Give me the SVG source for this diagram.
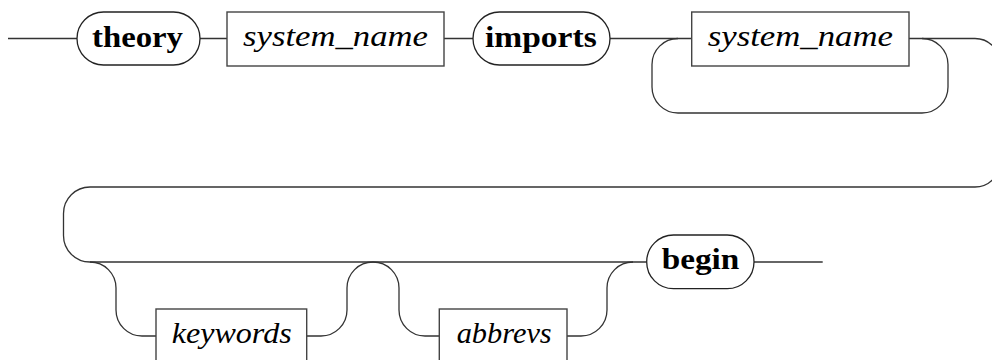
<svg xmlns="http://www.w3.org/2000/svg" width="992" height="360" viewBox="0 0 992 360">
<style>
.c{fill:none;stroke:#333;stroke-width:1.3}
.t{fill:#fff;stroke:#222;stroke-width:1.3}
.n{fill:#fff;stroke:#444;stroke-width:1.4}
.kw{font-family:"Liberation Serif","DejaVu Serif",serif;font-weight:bold;font-size:30px;fill:#000}
.nt{font-family:"Liberation Serif","DejaVu Serif",serif;font-style:italic;font-size:30px;fill:#000}
</style>
<rect width="992" height="360" fill="#fff"/>
<g id="connectors">
<path class="c" d="M8,38.5 H77 M200,38.5 H227 M444,38.5 H473 M610,38.5 H691.7"/>
<path class="c" d="M909,38.5 H975 A25,25 0 0 1 1000,63.5 V162 A25,25 0 0 1 975,187 H90 A26.5,26.5 0 0 0 63.5,213.5 V235.5 A26.5,26.5 0 0 0 90,262 H646.7"/>
<path class="c" d="M678,38.5 A26,26 0 0 0 652,64.5 V87 A26,26 0 0 0 678,113 H922 A26,26 0 0 0 948,87 V64.5 A26,26 0 0 0 922,38.5"/>
<path class="c" d="M90,262 A26,26 0 0 1 116,288 V310 A26,26 0 0 0 142,336 H156"/>
<path class="c" d="M306.7,336 H321 A26,26 0 0 0 347,310 V288 A26,26 0 0 1 373,262 A26,26 0 0 1 399,288 V310 A26,26 0 0 0 425,336 H439.3"/>
<path class="c" d="M567,336 H581 A26,26 0 0 0 607,310 V288 A26,26 0 0 1 633,262"/>
<path class="c" d="M754,262 H822.7"/>
</g>
<g id="theory">
<rect class="t" x="77" y="12" width="123" height="53" rx="26.5"/>
<text class="kw" x="92" y="46.5" textLength="91" lengthAdjust="spacingAndGlyphs">theory</text>
</g>
<g id="system_name1">
<rect class="n" x="227" y="12" width="217" height="54"/>
<text class="nt" x="243" y="46" textLength="185" lengthAdjust="spacingAndGlyphs">system_name</text>
</g>
<g id="imports">
<rect class="t" x="473" y="12" width="137" height="53" rx="26.5"/>
<text class="kw" x="485" y="46.5" textLength="111.7" lengthAdjust="spacingAndGlyphs">imports</text>
</g>
<g id="system_name2">
<rect class="n" x="691.7" y="12" width="217.3" height="54"/>
<text class="nt" x="707.7" y="46" textLength="185.3" lengthAdjust="spacingAndGlyphs">system_name</text>
</g>
<g id="keywords">
<rect class="n" x="156" y="309" width="150.7" height="54"/>
<text class="nt" x="171.7" y="343" textLength="120" lengthAdjust="spacingAndGlyphs">keywords</text>
</g>
<g id="abbrevs">
<rect class="n" x="439.3" y="309" width="127.7" height="54"/>
<text class="nt" x="456.7" y="343" textLength="95" lengthAdjust="spacingAndGlyphs">abbrevs</text>
</g>
<g id="begin">
<rect class="t" x="646.7" y="235" width="107.3" height="53.7" rx="26.8"/>
<text class="kw" x="661.7" y="269" textLength="77.6" lengthAdjust="spacingAndGlyphs">begin</text>
</g>
</svg>
